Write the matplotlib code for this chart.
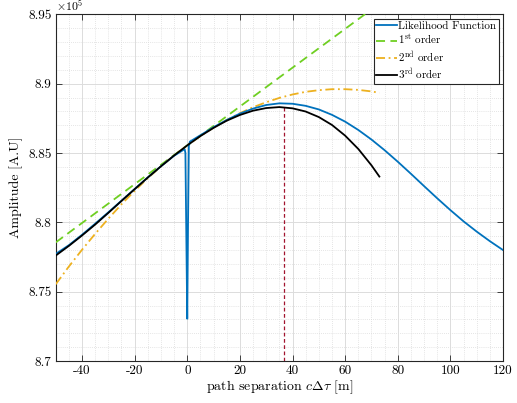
import numpy as np
import matplotlib
matplotlib.use('Agg')
import matplotlib.pyplot as plt
from matplotlib.ticker import MultipleLocator

plt.rcParams['font.family'] = 'serif'
plt.rcParams['font.serif'] = ['cmr10']
plt.rcParams['mathtext.fontset'] = 'cm'
plt.rcParams['axes.unicode_minus'] = False
plt.rcParams['axes.formatter.use_mathtext'] = True

# Likelihood function (amplitude in units of 1e5)
x_lik = [-50, -45, -40, -35, -30, -25, -20, -15, -10, -5, -1.0, -0.7, -0.35, 0, 0.3, 0.6, 1.0,
         5, 10, 15, 20, 25, 30, 35, 40, 45, 50, 55, 60, 65, 70, 75, 80, 85, 90, 95, 100,
         105, 110, 115, 120]
y_lik = [8.7772, 8.7835, 8.7910, 8.7990, 8.8072, 8.8156, 8.8240, 8.8324, 8.8404, 8.8480,
         8.8528, 8.8500, 8.7900, 8.7305, 8.8000, 8.8550, 8.8582,
         8.8628, 8.8686, 8.8738, 8.8784, 8.8820, 8.8846, 8.8858, 8.8855, 8.8840, 8.8814,
         8.8775, 8.8726, 8.8666, 8.8597, 8.8520, 8.8437, 8.8350, 8.8261, 8.8173, 8.8088,
         8.8007, 8.7933, 8.7864, 8.7800]

# 1st order approximation (straight line)
x_o1 = [-50, 73]
y_o1 = [8.7855, 8.9577]

# 2nd and 3rd order approximations
x_ord = [-50, -45, -40, -35, -30, -25, -20, -15, -10, -5, 0, 5, 10, 15, 20, 25, 30, 35,
         40, 45, 50, 55, 60, 65, 70, 73]
y_o2 = [8.7553, 8.7681, 8.7802, 8.7917, 8.8026, 8.8130, 8.8227, 8.8318, 8.8403, 8.8482,
        8.8555, 8.8622, 8.8683, 8.8738, 8.8787, 8.8830, 8.8866, 8.8897, 8.8922, 8.8941,
        8.8953, 8.8960, 8.8960, 8.8955, 8.8944, 8.8934]
y_o3 = [8.7760, 8.7830, 8.7905, 8.7984, 8.8068, 8.8154, 8.8239, 8.8323, 8.8404, 8.8482,
        8.8555, 8.8622, 8.8681, 8.8733, 8.8774, 8.8805, 8.8824, 8.8831, 8.8822, 8.8799,
        8.8759, 8.8702, 8.8625, 8.8529, 8.8411, 8.8330]

# estimated peak position
x_peak = 36.6
y_peak = 8.8832

xticks = [-40, -20, 0, 20, 40, 60, 80, 100, 120]
yticks = [8.7, 8.75, 8.8, 8.85, 8.9, 8.95]
ytick_labels = ['8.7', '8.75', '8.8', '8.85', '8.9', '8.95']

fig = plt.figure(figsize=(5.17, 4.03), dpi=100)
ax = fig.add_axes([0.1077, 0.1042, 0.8653, 0.8603])

ax.plot(x_lik, y_lik, color='#0072BD', lw=1.3, label='Likelihood Function', zorder=4)
ax.plot(x_o1, y_o1, color='#6FCF22', lw=1.3, ls=(0, (5, 3)), label='1$^{\\rm st}$ order', zorder=3)
ax.plot(x_ord, y_o2, color='#EDB120', lw=1.3, ls=(0, (5, 2, 1, 2)), label='2$^{\\rm nd}$ order', zorder=3)
ax.plot(x_ord, y_o3, color='black', lw=1.3, label='3$^{\\rm rd}$ order', zorder=5)
ax.plot([x_peak, x_peak], [8.7, y_peak], color='#A2142F', lw=0.9, ls=(0, (3, 2)), zorder=2)

ax.set_xlim(-50, 120)
ax.set_ylim(8.7, 8.95)
ax.set_xticks(xticks)
ax.set_xticklabels([str(v) for v in xticks])
ax.set_yticks(yticks)
ax.set_yticklabels(ytick_labels)
ax.xaxis.set_minor_locator(MultipleLocator(5))
ax.yaxis.set_minor_locator(MultipleLocator(0.01))

ax.tick_params(which='major', direction='in', top=True, right=True, length=4,
               width=0.6, labelsize=9.5, color='#262626', pad=3)
ax.tick_params(which='minor', length=0, top=True, right=True)
ax.grid(which='major', color='#dcdcdc', lw=0.7, ls='-')
ax.grid(which='minor', color='#dcdcdc', lw=0.6, ls=(0, (1, 1.5)))
ax.set_axisbelow(True)
for s in ax.spines.values():
    s.set_color('#262626')
    s.set_linewidth(0.8)

ax.set_xlabel('path separation $c\\Delta\\tau$ [m]', fontsize=10, labelpad=1)
ax.set_ylabel('Amplitude [A.U]', fontsize=10, labelpad=4)
ax.text(0.0, 1.0, '$\\times10^5$', transform=ax.transAxes, fontsize=8.5,
        ha='left', va='bottom')

leg = ax.legend(loc='upper right', fontsize=8, fancybox=False, framealpha=1,
                edgecolor='#262626', handlelength=1.9, handletextpad=0.1,
                borderpad=0.2, labelspacing=0.2, borderaxespad=0.4)
leg.get_frame().set_linewidth(0.8)

fig.savefig('out.png', dpi=100)
